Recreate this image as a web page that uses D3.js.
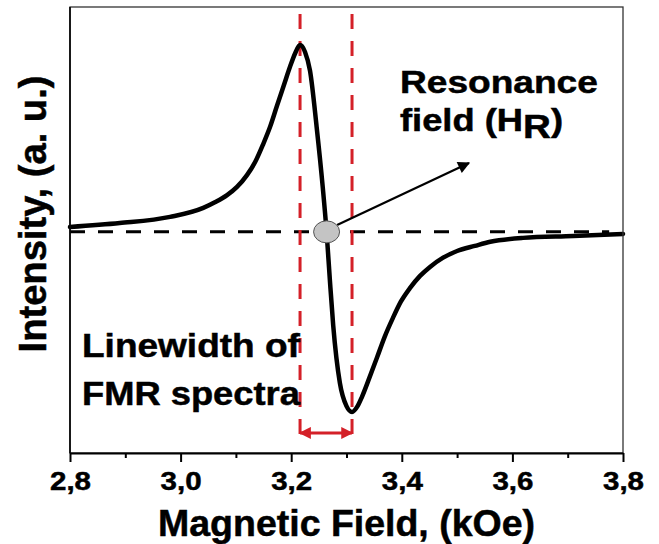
<!DOCTYPE html>
<html>
<head>
<meta charset="utf-8">
<script src="https://cdn.jsdelivr.net/npm/d3@7"></script>
<style>
  html, body { margin: 0; padding: 0; background: #fff; }
  svg { display: block; }
  text { font-family: "Liberation Sans", Arial, sans-serif; font-weight: bold; fill: #000; stroke: #000; stroke-width: 0.5px; }
</style>
</head>
<body>
<svg id="chart" width="659" height="544"></svg>
<script>
// ---- data ----
const fieldKOe = [2.800, 2.890, 2.981, 3.041, 3.062, 3.084, 3.102, 3.120, 3.135, 3.149, 3.162, 3.174, 3.187, 3.198, 3.207, 3.216,
                  3.225, 3.234, 3.246, 3.257, 3.264, 3.270, 3.276, 3.288, 3.300, 3.310, 3.320, 3.328, 3.342, 3.355, 3.369,
                  3.384, 3.398, 3.415, 3.433, 3.451, 3.474, 3.500, 3.532, 3.560, 3.619, 3.710, 3.800];
const intensity = [0.026, 0.047, 0.080, 0.128, 0.158, 0.196, 0.240, 0.303, 0.374, 0.466, 0.562, 0.670, 0.785, 0.882, 0.952, 0.997,
                  0.960, 0.860, 0.560, 0.240, 0.000, -0.260, -0.500, -0.806, -0.930, -0.961, -0.930, -0.880, -0.774, -0.672, -0.560,
                  -0.459, -0.374, -0.299, -0.235, -0.187, -0.139, -0.102, -0.075, -0.053, -0.032, -0.022, -0.011];
const xTicks = [2.8, 3.0, 3.2, 3.4, 3.6, 3.8];
const xMinorTicks = [2.9, 3.1, 3.3, 3.5, 3.7];
const xDomain = [2.8, 3.8];
const yDomain = [-1.18, 1.2];
const linewidthBounds = [3.216, 3.310];     // peak-to-peak field positions
const resonanceField = [3.264, 0];           // H_R point
const hrArrow = [[3.283, 0.037], [3.5215, 0.368]];
const linewidthArrowLevel = -1.073;
const guideSpan = [1.163, -1.126];
const baselineSpan = [2.8, 3.775];
const xLabel = "Magnetic Field, (kOe)";
const yLabel = "Intensity, (a. u.)";

// ---- layout ----
const svg = d3.select("#chart");
const L = 70, R = 623, T = 7, B = 453;
const x = d3.scaleLinear().domain(xDomain).range([L, R]);
const y = d3.scaleLinear().domain(yDomain).range([B, T]);
const red = "#d42028";

const defs = svg.append("defs");
defs.append("marker").attr("id", "arrBlack").attr("viewBox", "0 0 10 10")
  .attr("refX", 9).attr("refY", 5).attr("markerWidth", 16).attr("markerHeight", 12)
  .attr("markerUnits", "userSpaceOnUse").attr("orient", "auto")
  .append("path").attr("d", "M0,0 L10,5 L0,10 Z").attr("fill", "#000");
defs.append("marker").attr("id", "arrRed").attr("viewBox", "0 0 10 10")
  .attr("refX", 9).attr("refY", 5).attr("markerWidth", 16).attr("markerHeight", 12)
  .attr("markerUnits", "userSpaceOnUse").attr("orient", "auto-start-reverse")
  .append("path").attr("d", "M0,0 L10,5 L0,10 Z").attr("fill", red);

// baseline dashed line
svg.append("line")
  .attr("x1", x(baselineSpan[0])).attr("x2", x(baselineSpan[1]))
  .attr("y1", y(0)).attr("y2", y(0))
  .attr("stroke", "#000").attr("stroke-width", 3).attr("stroke-dasharray", "15,13");

// red dashed guide lines
svg.selectAll(".guide").data(linewidthBounds).join("line")
  .attr("class", "guide")
  .attr("x1", d => x(d)).attr("x2", d => x(d))
  .attr("y1", y(guideSpan[0])).attr("y2", y(guideSpan[1]))
  .attr("stroke", red).attr("stroke-width", 3).attr("stroke-dasharray", "15,12");

// spectrum curve
const pts = fieldKOe.map((f, i) => [f, intensity[i]]);
svg.append("path").datum(pts)
  .attr("d", d3.line().x(d => x(d[0])).y(d => y(d[1])).curve(d3.curveMonotoneX))
  .attr("fill", "none").attr("stroke", "#000").attr("stroke-width", 4.5)
  .attr("stroke-linejoin", "round").attr("stroke-linecap", "round");

// H_R arrow
svg.append("line")
  .attr("x1", x(hrArrow[0][0])).attr("y1", y(hrArrow[0][1]))
  .attr("x2", x(hrArrow[1][0])).attr("y2", y(hrArrow[1][1]))
  .attr("stroke", "#000").attr("stroke-width", 2.2).attr("marker-end", "url(#arrBlack)");

// H_R marker
svg.append("ellipse")
  .attr("cx", x(resonanceField[0])).attr("cy", y(resonanceField[1]))
  .attr("rx", 13).attr("ry", 11)
  .attr("fill", "#c4c4c4").attr("stroke", "#555").attr("stroke-width", 1);

// linewidth double arrow
svg.append("line")
  .attr("x1", x(linewidthBounds[0])).attr("x2", x(linewidthBounds[1]))
  .attr("y1", y(linewidthArrowLevel)).attr("y2", y(linewidthArrowLevel))
  .attr("stroke", red).attr("stroke-width", 3)
  .attr("marker-start", "url(#arrRed)").attr("marker-end", "url(#arrRed)");

// frame
svg.append("rect").attr("x", L).attr("y", T).attr("width", R - L).attr("height", B - T)
  .attr("fill", "none").attr("stroke", "#333").attr("stroke-width", 1.3);
svg.append("line").attr("x1", L).attr("x2", L).attr("y1", T).attr("y2", B)
  .attr("stroke", "#000").attr("stroke-width", 1.6);

// axes
const fmt = d => d3.format(".1f")(d).replace(".", ",");
const gx = svg.append("g").attr("transform", `translate(0,${B})`)
  .call(d3.axisBottom(x).tickValues(xTicks).tickSize(9).tickSizeOuter(0).tickFormat(fmt));
gx.select(".domain").attr("stroke", "#000").attr("stroke-width", 2.2);
gx.selectAll(".tick line").attr("stroke", "#000").attr("stroke-width", 2);
gx.selectAll(".tick text").attr("y", 37).attr("dy", 0)
  .style("font-size", "26px").style("font-family", "'Liberation Sans', Arial, sans-serif")
  .style("font-weight", "bold").attr("fill", "#000")
  .attr("textLength", 41).attr("lengthAdjust", "spacingAndGlyphs");
const gxm = svg.append("g").attr("transform", `translate(0,${B})`)
  .call(d3.axisBottom(x).tickValues(xMinorTicks).tickSize(5).tickFormat(""));
gxm.select(".domain").remove();
gxm.selectAll(".tick line").attr("stroke", "#000").attr("stroke-width", 2);

// stretched text helper
function stretchText(px, py, size, targetW, anchor, build, rotate) {
  const g = svg.append("g");
  const t = g.append("text").style("font-size", size + "px").attr("text-anchor", anchor);
  build(t);
  const w = t.node().getComputedTextLength();
  const sx = targetW / w;
  g.attr("transform", `translate(${px},${py})` + (rotate ? ` rotate(${rotate})` : "") + ` scale(${sx},1)`);
  return g;
}

stretchText(400, 93, 32, 198, "start", t => t.text("Resonance"));
stretchText(400, 131, 32, 163, "start", t => {
  t.append("tspan").text("field (H");
  t.append("tspan").attr("dy", 7).style("font-size", "34px").text("R");
  t.append("tspan").attr("dy", -7).text(")");
});
stretchText(82, 357, 34, 218, "start", t => t.text("Linewidth of"));
stretchText(82, 405, 34, 218, "start", t => t.text("FMR spectra"));
stretchText((L + R) / 2, 536, 37, 377, "middle", t => t.text(xLabel));
stretchText(46, 214, 39, 277, "middle", t => t.text(yLabel), -90);
</script>
</body>
</html>
